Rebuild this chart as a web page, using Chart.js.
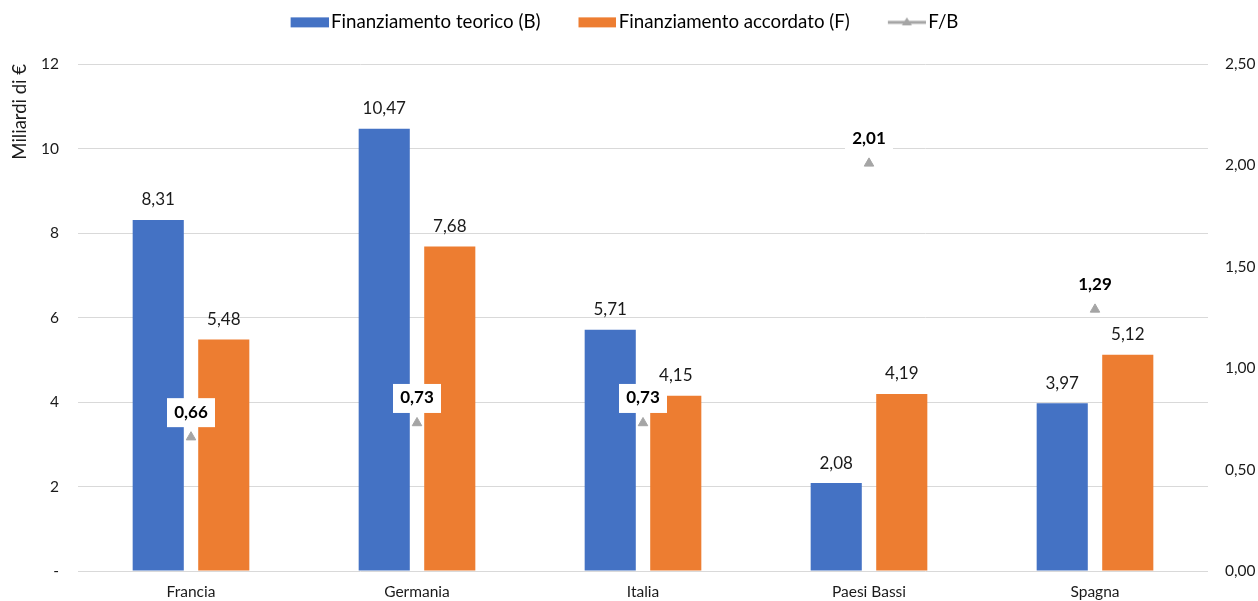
<!DOCTYPE html>
<html><head><meta charset="utf-8">
<script src="https://cdn.jsdelivr.net/npm/chart.js@4/dist/chart.umd.min.js"></script>
<style>html,body{margin:0;padding:0;background:#fff}#wrap{width:1258px;height:601px}</style>
</head><body><div id="wrap"><canvas id="c" width="1258" height="601"></canvas></div>
<script>
const categories = ['Francia', 'Germania', 'Italia', 'Paesi Bassi', 'Spagna'];
const teorico = [8.31, 10.47, 5.71, 2.08, 3.97];
const accordato = [5.48, 7.68, 4.15, 4.19, 5.12];
const ratioFB = [0.66, 0.73, 0.73, 2.01, 1.29];
const seriesNames = ['Finanziamento teorico (B)', 'Finanziamento accordato (F)', 'F/B'];
const leftAxisTitle = 'Miliardi di €';

const FONT = 'Lato, "Open Sans", sans-serif';
const BLUE = '#4472C4', ORANGE = '#ED7D31', GREY = '#A5A5A5';

function makeImg(w, h, draw) {
  const c = document.createElement('canvas');
  c.width = w; c.height = h;
  draw(c.getContext('2d'));
  return c;
}
const legendImgs = [
  makeImg(70, 12, g => { g.fillStyle = BLUE; g.fillRect(32, 1, 38, 10); }),
  makeImg(70, 12, g => { g.fillStyle = ORANGE; g.fillRect(32, 1, 38, 10); }),
  makeImg(70, 12, g => {
    g.strokeStyle = GREY; g.lineWidth = 3;
    g.beginPath(); g.moveTo(32, 6); g.lineTo(70, 6); g.stroke();
    g.fillStyle = GREY; g.beginPath(); g.moveTo(51, 1); g.lineTo(56, 9); g.lineTo(46, 9); g.closePath(); g.fill();
  })
];

const fmt = v => v.toFixed(2).replace('.', ',');

const valueLabels = {
  id: 'valueLabels',
  afterDatasetsDraw(chart) {
    const ctx = chart.ctx;
    ctx.save();
    chart.data.datasets.forEach((ds, di) => {
      const meta = chart.getDatasetMeta(di);
      if (meta.hidden) return;
      meta.data.forEach((el, i) => {
        const txt = fmt(ds.data[i]);
        ctx.textAlign = 'center';
        ctx.textBaseline = 'middle';
        if (ds.type === 'line') {
          ctx.font = 'bold 17px ' + FONT;
          const cy = el.y - 25;
          ctx.fillStyle = '#ffffff';
          ctx.fillRect(el.x - 24, cy - 14, 48, 29);
          ctx.fillStyle = '#000000';
          ctx.fillText(txt, el.x, cy);
        } else {
          ctx.font = '17px ' + FONT;
          ctx.fillStyle = '#1a1a1a';
          ctx.fillText(txt, el.x, el.y - 20);
        }
      });
    });
    ctx.restore();
  }
};

const fixLegend = {
  id: 'fixLegend',
  afterInit(chart) {
    const lg = chart.legend;
    if (!lg) return;
    const orig = lg.fit.bind(lg);
    lg.fit = function () {
      orig();
      this.height = 64;
      if (this.lineWidths && this.lineWidths.length) this.lineWidths[0] += 34;
    };
  }
};

new Chart(document.getElementById('c'), {
  data: {
    labels: categories,
    datasets: [
      { type: 'bar', label: seriesNames[0], data: teorico, backgroundColor: BLUE, yAxisID: 'y', order: 2,
        categoryPercentage: 0.58, barPercentage: 0.78 },
      { type: 'bar', label: seriesNames[1], data: accordato, backgroundColor: ORANGE, yAxisID: 'y', order: 2,
        categoryPercentage: 0.58, barPercentage: 0.78 },
      { type: 'line', label: seriesNames[2], data: ratioFB, yAxisID: 'y1', order: 0, showLine: false,
        pointStyle: 'triangle', pointRadius: 5.5, pointHoverRadius: 5.5, pointBorderWidth: 1,
        backgroundColor: GREY, borderColor: GREY }
    ]
  },
  options: {
    responsive: false,
    devicePixelRatio: 1,
    animation: false,
    layout: { padding: { top: 0, left: 0, right: 0, bottom: 0 } },
    plugins: {
      tooltip: { enabled: false },
      legend: {
        position: 'top',
        labels: {
          usePointStyle: true,
          pointStyleWidth: 56,
          padding: 13,
          color: '#1a1a1a',
          font: { family: FONT, size: 18.7 },
          generateLabels: (chart) => chart.data.datasets.map((ds, i) => ({
            text: ds.label, pointStyle: legendImgs[i], fillStyle: 'rgba(0,0,0,0)',
            strokeStyle: 'rgba(0,0,0,0)', lineWidth: 0, hidden: !chart.isDatasetVisible(i), datasetIndex: i
          }))
        }
      }
    },
    scales: {
      x: {
        grid: { display: false, drawTicks: false },
        border: { display: false },
        ticks: { color: '#1a1a1a', font: { family: FONT, size: 15.5 }, padding: 12 },
        afterFit(s) { s.height = 30; }
      },
      y: {
        position: 'left', min: 0, max: 12,
        grid: { color: '#D9D9D9', drawTicks: false },
        border: { display: false },
        ticks: { stepSize: 2, padding: 19, color: '#1a1a1a', font: { family: FONT, size: 15.5 },
          callback: v => v === 0 ? '-' : String(v) },
        title: { display: true, text: leftAxisTitle, align: 'end', color: '#1a1a1a',
          font: { family: FONT, size: 18.5 }, padding: { top: 9, bottom: 0 } },
        afterFit(s) { s.width = 78; }
      },
      y1: {
        position: 'right', min: 0, max: 2.5,
        grid: { drawOnChartArea: false, drawTicks: false },
        border: { display: false },
        ticks: { stepSize: 0.5, padding: 17, color: '#1a1a1a', font: { family: FONT, size: 15.5 },
          callback: v => fmt(v) },
        afterFit(s) { s.width = 50; }
      }
    }
  },
  plugins: [fixLegend, valueLabels]
});
</script>
</body></html>
